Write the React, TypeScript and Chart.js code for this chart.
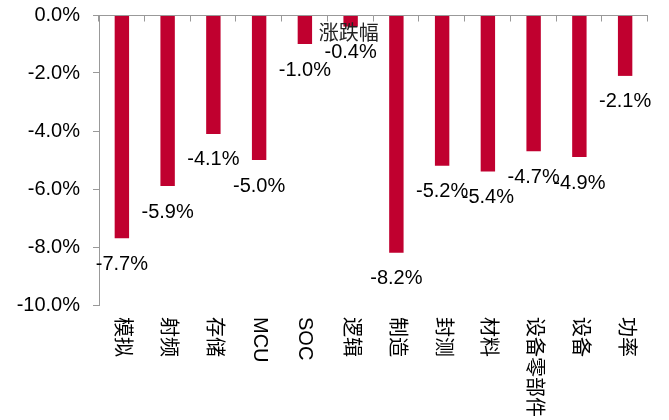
import React, { useEffect, useRef } from "react";
import { Chart, registerables } from "chart.js";

Chart.register(...registerables);

const categories: string[] = ["模拟", "射频", "存储", "MCU", "SOC", "逻辑", "制造", "封测", "材料", "设备零部件", "设备", "功率"];
const changeValues: number[] = [-7.7, -5.9, -4.1, -5.0, -1.0, -0.4, -8.2, -5.2, -5.4, -4.7, -4.9, -2.1];
const seriesName = "涨跌幅";
const yTicks: number[] = [0, -2, -4, -6, -8, -10];

const BAR_COLOR = "#C0002F";
const AXIS_COLOR = "#999999";
const FONT_FAMILY = "'Liberation Sans', Arial, 'Noto Sans CJK SC', sans-serif";

const customDraw = {
  id: "customDraw",
  afterDatasetsDraw(chart: any) {
    const ctx = chart.ctx as CanvasRenderingContext2D;
    const xs = chart.scales.x;
    const ys = chart.scales.y;
    const area = chart.chartArea;
    const y0 = Math.round(ys.getPixelForValue(0)) + 0.5;

    // x axis line at zero and boundary ticks
    ctx.save();
    ctx.strokeStyle = AXIS_COLOR;
    ctx.lineWidth = 1;
    ctx.beginPath();
    ctx.moveTo(area.left, y0);
    ctx.lineTo(area.right, y0);
    const n = categories.length;
    for (let i = 0; i <= n; i++) {
      let bx: number;
      if (i === 0) bx = area.left;
      else if (i === n) bx = area.right;
      else bx = (xs.getPixelForValue(i - 1) + xs.getPixelForValue(i)) / 2;
      bx = Math.round(bx) - 0.5;
      ctx.moveTo(bx, y0);
      ctx.lineTo(bx, y0 + 6);
    }
    ctx.stroke();
    ctx.restore();

    // data labels
    const meta = chart.getDatasetMeta(0);
    ctx.save();
    ctx.fillStyle = "#000";
    ctx.font = `20px ${FONT_FAMILY}`;
    ctx.textAlign = "center";
    ctx.textBaseline = "middle";
    meta.data.forEach((bar: any, i: number) => {
      const v = changeValues[i];
      ctx.fillText(v.toFixed(1) + "%", bar.x, bar.y + 26);
    });
    ctx.restore();

    // category labels, rotated 90deg clockwise, below the plot area
    ctx.save();
    ctx.fillStyle = "#000";
    ctx.font = `20px ${FONT_FAMILY}`;
    categories.forEach((c, i) => {
      const x = xs.getPixelForValue(i);
      ctx.save();
      ctx.translate(x, area.bottom + 12);
      ctx.rotate(Math.PI / 2);
      ctx.textAlign = "left";
      ctx.textBaseline = "middle";
      ctx.fillText(c, 0, 0);
      ctx.restore();
    });
    ctx.restore();

    // legend text
    ctx.save();
    ctx.fillStyle = "#222";
    ctx.font = `20px 'Noto Sans CJK SC', sans-serif`;
    ctx.textAlign = "center";
    ctx.textBaseline = "middle";
    ctx.fillText(seriesName, area.left + (area.right - area.left) * 0.455, ys.getPixelForValue(-0.6));
    ctx.restore();
  },
};

export default function App() {
  const canvasRef = useRef<HTMLCanvasElement | null>(null);

  useEffect(() => {
    if (!canvasRef.current) return;
    const chart = new Chart(canvasRef.current, {
      type: "bar",
      data: {
        labels: categories,
        datasets: [
          {
            label: seriesName,
            data: changeValues,
            backgroundColor: BAR_COLOR,
            barPercentage: 0.315,
            categoryPercentage: 1,
          },
        ],
      },
      options: {
        responsive: false,
        animation: false,
        devicePixelRatio: 1,
        layout: { padding: { left: 0, right: 21, top: 15, bottom: 115 } },
        plugins: {
          legend: { display: false },
          tooltip: { enabled: false },
        },
        scales: {
          x: {
            display: false,
            offset: true,
          },
          y: {
            min: -10,
            max: 0,
            afterFit(scale: any) {
              scale.width = 99;
              scale.paddingTop = 12;
              scale.paddingBottom = 12;
            },
            afterBuildTicks(scale: any) {
              scale.ticks = yTicks.map((v) => ({ value: v }));
            },
            ticks: {
              padding: 13,
              color: "#000",
              font: { family: FONT_FAMILY, size: 20 },
              callback: (v: any) => Number(v).toFixed(1) + "%",
            },
            grid: {
              drawOnChartArea: false,
              drawTicks: true,
              tickLength: 6,
              color: AXIS_COLOR,
            },
            border: { color: AXIS_COLOR },
          },
        },
      },
      plugins: [customDraw],
    });
    return () => chart.destroy();
  }, []);

  return (
    <div style={{ position: "fixed", left: 0, top: 0, width: 669, height: 420, background: "#fff" }}>
      <canvas ref={canvasRef} width={669} height={420} style={{ display: "block" }} />
    </div>
  );
}
